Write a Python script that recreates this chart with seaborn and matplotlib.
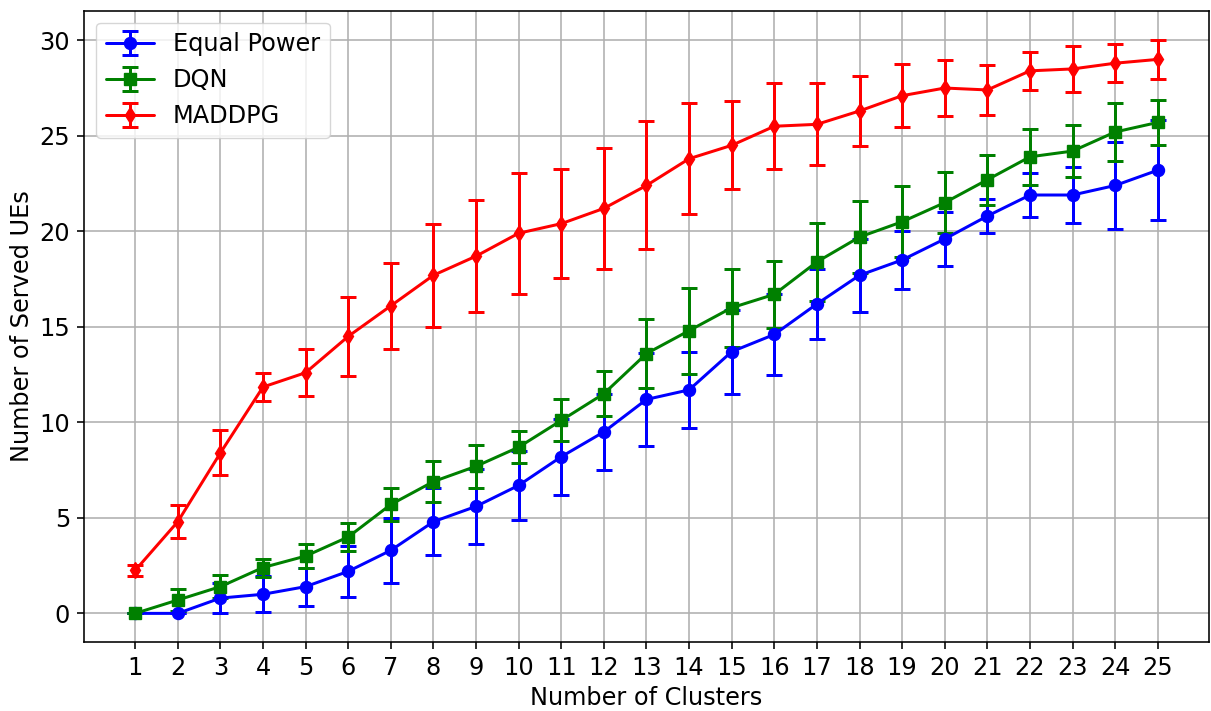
import numpy as np
import pandas as pd
import matplotlib
matplotlib.use("Agg")
import matplotlib.pyplot as plt
import seaborn as sns

clusters = list(range(1, 26))

equal_power = [0, 0, 0.8, 1.0, 1.4, 2.2, 3.3, 4.8, 5.6, 6.7, 8.2, 9.5, 11.2, 11.7,
               13.7, 14.6, 16.2, 17.7, 18.5, 19.6, 20.8, 21.9, 21.9, 22.4, 23.2]
equal_power_err = [0, 0, 0.8, 0.95, 1.0, 1.35, 1.7, 1.75, 1.95, 1.8, 2.0, 2.0, 2.45, 2.0,
                   2.2, 2.1, 1.85, 1.9, 1.5, 1.4, 0.87, 1.15, 1.45, 2.27, 2.63]

dqn = [0, 0.7, 1.4, 2.4, 3.0, 4.0, 5.7, 6.9, 7.7, 8.7, 10.1, 11.5, 13.6, 14.8,
       16.0, 16.7, 18.4, 19.7, 20.5, 21.5, 22.7, 23.9, 24.2, 25.2, 25.7]
dqn_err = [0, 0.55, 0.6, 0.47, 0.65, 0.74, 0.88, 1.08, 1.12, 0.83, 1.1, 1.17, 1.8, 2.25,
           2.03, 1.76, 2.05, 1.87, 1.86, 1.58, 1.3, 1.48, 1.37, 1.5, 1.16]

maddpg = [2.25, 4.8, 8.4, 11.85, 12.6, 14.5, 16.1, 17.7, 18.7, 19.9, 20.4, 21.2, 22.4, 23.8,
          24.5, 25.5, 25.6, 26.3, 27.1, 27.5, 27.4, 28.4, 28.5, 28.8, 29.0]
maddpg_err = [0.3, 0.87, 1.18, 0.73, 1.22, 2.08, 2.25, 2.7, 2.95, 3.17, 2.85, 3.15, 3.35, 2.9,
              2.3, 2.25, 2.15, 1.85, 1.65, 1.45, 1.3, 1.0, 1.22, 1.0, 1.02]

series_names = ["Equal Power", "DQN", "MADDPG"]
colors = ["blue", "green", "red"]
markers = ["o", "s", "d"]

S = 1.44  # scale factor (original rendered at higher dpi)
FS = 12 * S

sns.set_style("white")
plt.rcParams["font.family"] = ["DejaVu Sans"]
plt.rcParams.update({
    "font.size": FS,
    "text.color": "black",
    "axes.labelcolor": "black",
    "xtick.color": "black",
    "ytick.color": "black",
})

df = pd.DataFrame({
    "Number of Clusters": clusters * 3,
    "Served": equal_power + dqn + maddpg,
    "Err": equal_power_err + dqn_err + maddpg_err,
    "Method": sum([[n] * len(clusters) for n in series_names], []),
})

fig, ax = plt.subplots(figsize=(12.11, 7.11), dpi=100)
fig.subplots_adjust(left=0.0694, right=0.9983, top=0.985, bottom=0.097)

ax.grid(True, color="#b0b0b0", linewidth=0.8 * S)
ax.set_axisbelow(True)

LW = 1.5 * S
MS = 6 * S
CAP = 4 * S

for name, c, m in zip(series_names, colors, markers):
    sub = df[df["Method"] == name]
    sns.lineplot(data=sub, x="Number of Clusters", y="Served", color=c, marker=m,
                 markersize=MS, markeredgewidth=1.0, markeredgecolor=c, linewidth=LW,
                 ax=ax, legend=False, zorder=3)
    ax.errorbar(sub["Number of Clusters"], sub["Served"], yerr=sub["Err"],
                fmt="none", ecolor=c, elinewidth=LW, capsize=CAP, capthick=LW,
                zorder=2)

# legend proxies showing line + marker + error bar
proxies = []
for name, c, m in zip(series_names, colors, markers):
    p = ax.errorbar([np.nan], [np.nan], yerr=[np.nan], fmt="-" + m, color=c,
                    markersize=MS, linewidth=LW, elinewidth=LW,
                    capsize=CAP, capthick=LW, label=name)
    proxies.append(p)

ax.legend(handles=proxies, labels=series_names, loc="upper left", fontsize=FS,
          frameon=True, fancybox=True, framealpha=0.8, edgecolor="#cccccc")

ax.set_xticks(clusters)
ax.set_xlim(-0.2, 26.2)
ax.set_ylim(-1.5, 31.55)
ax.set_yticks([0, 5, 10, 15, 20, 25, 30])
ax.set_xlabel("Number of Clusters", fontsize=FS)
ax.set_ylabel("Number of Served UEs", fontsize=FS)
ax.tick_params(axis="both", which="major", labelsize=FS, length=3.5 * S, width=0.8 * S,
               pad=3.5 * S, direction="out", bottom=True, left=True)
for s in ax.spines.values():
    s.set_color("black")
    s.set_linewidth(0.8 * S)

fig.savefig("out.png", dpi=100)
